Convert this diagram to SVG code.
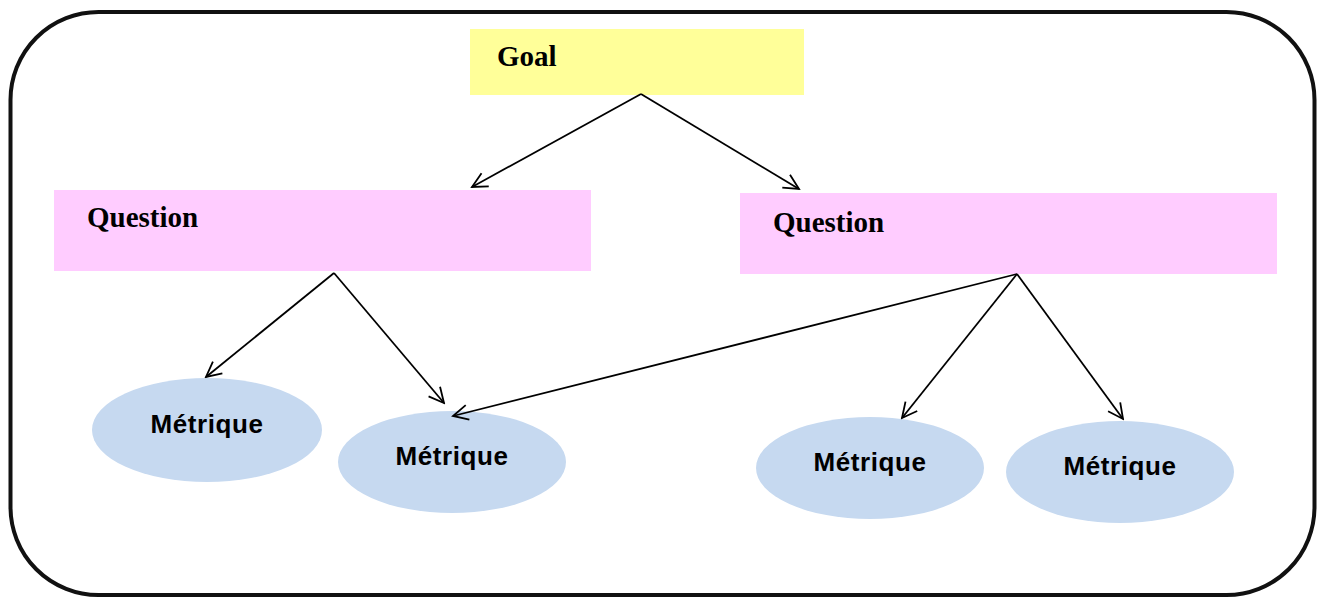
<svg xmlns="http://www.w3.org/2000/svg" width="1323" height="598" viewBox="0 0 1323 598">
<style>
.q{fill:#FFCCFF}
.m{fill:#C6D9F0}
.serif{font-family:"Liberation Serif","Times New Roman",serif;font-weight:bold;font-size:29px;fill:#000}
.sans{font-family:"Liberation Sans",Arial,sans-serif;font-weight:bold;font-size:26px;letter-spacing:0.6px;fill:#000;text-anchor:middle}
.c{stroke:#000;stroke-width:1.8;fill:none;marker-end:url(#ah)}
</style>
<defs>
<marker id="ah" markerUnits="userSpaceOnUse" viewBox="-16 -9 18 18" refX="0" refY="0" markerWidth="18" markerHeight="18" orient="auto">
<path d="M-15,-7.5 L0,0 L-15,7.5" fill="none" stroke="#000" stroke-width="1.8"/>
</marker>
</defs>
<rect x="0" y="0" width="1323" height="598" fill="#fff"/>
<rect x="10.5" y="12" width="1304" height="583" rx="88" ry="88" fill="none" stroke="#111" stroke-width="4"/>
<g id="goal">
<rect x="470" y="29" width="334" height="66" fill="#FFFF99"/>
<text class="serif" x="497" y="66">Goal</text>
</g>
<g id="question1">
<rect class="q" x="54" y="190" width="537" height="81"/>
<text class="serif" x="87" y="227">Question</text>
</g>
<g id="question2">
<rect class="q" x="740" y="193" width="537" height="81"/>
<text class="serif" x="773" y="232">Question</text>
</g>
<g id="metrique1">
<ellipse class="m" cx="207" cy="430" rx="115" ry="52"/>
<text class="sans" x="207" y="433">Métrique</text>
</g>
<g id="metrique2">
<ellipse class="m" cx="452" cy="462" rx="114" ry="51"/>
<text class="sans" x="452" y="465">Métrique</text>
</g>
<g id="metrique3">
<ellipse class="m" cx="870" cy="468" rx="114" ry="51"/>
<text class="sans" x="870" y="471">Métrique</text>
</g>
<g id="metrique4">
<ellipse class="m" cx="1120" cy="472" rx="114" ry="51"/>
<text class="sans" x="1120" y="475">Métrique</text>
</g>
<g id="connectors">
<line class="c" x1="641" y1="94" x2="472" y2="187"/>
<line class="c" x1="641" y1="94" x2="799" y2="189"/>
<line class="c" x1="334" y1="273" x2="206" y2="377"/>
<line class="c" x1="334" y1="273" x2="444" y2="403"/>
<line class="c" x1="1017" y1="274" x2="453" y2="416"/>
<line class="c" x1="1017" y1="274" x2="902" y2="418"/>
<line class="c" x1="1017" y1="274" x2="1123" y2="419"/>
</g>
</svg>
